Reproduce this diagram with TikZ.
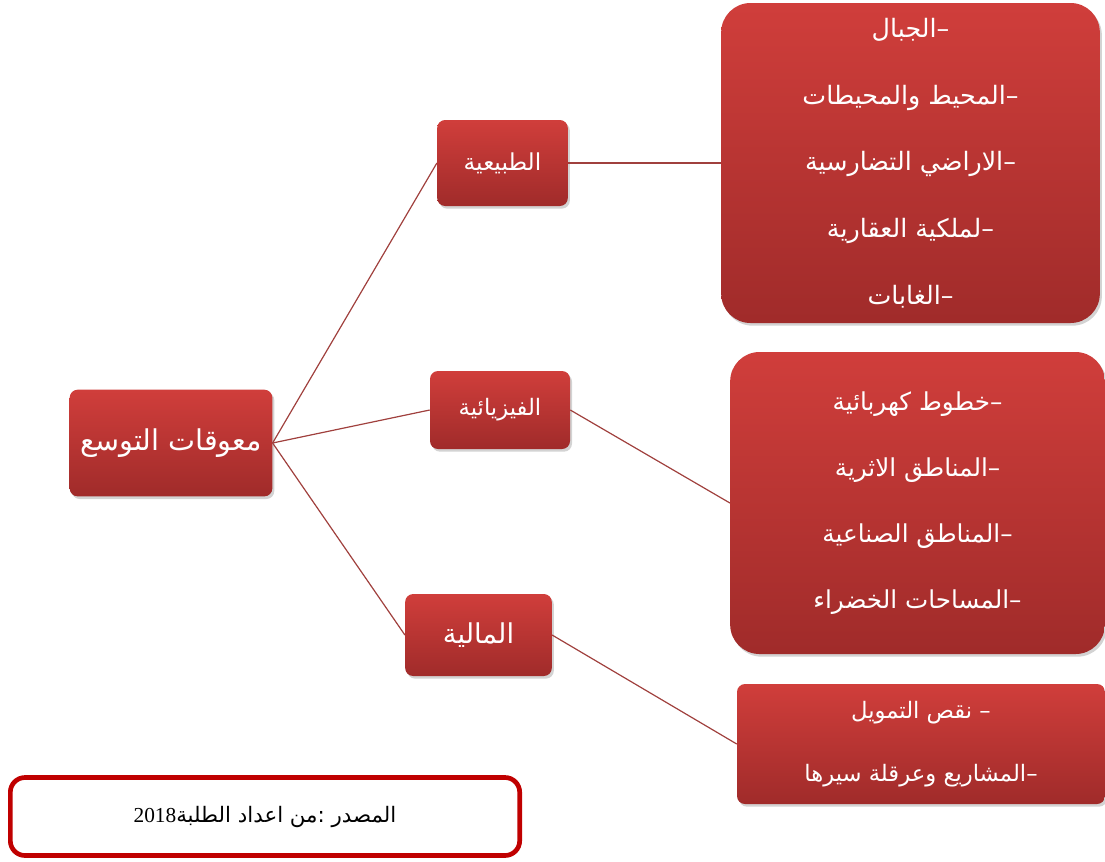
\documentclass[tikz,border=0pt]{standalone}
\usepackage{fontspec}
\setmainfont{Liberation Serif}
\newfontfamily\arabicfont[Script=Arabic]{DejaVu Sans}
\TeXXeTstate=1
\usepackage{tikz}
\usetikzlibrary{shapes,positioning,calc,shadows}
\definecolor{boxtop}{RGB}{208,62,59}
\definecolor{boxbot}{RGB}{160,43,42}
\definecolor{linkred}{RGB}{160,64,61}
\definecolor{framered}{RGB}{192,0,0}
\tikzset{
        block/.style = {draw=none, rectangle, rounded corners=6pt, top color=boxtop, bottom color=boxbot, text=white, align=center, inner sep=0pt,
                        drop shadow={opacity=0.35, shadow xshift=1.5pt, shadow yshift=-2pt},
                        font=\arabicfont\fontsize{17.5}{21}\selectfont},
        bigblock/.style = {block, rounded corners=22pt, font=\arabicfont\fontsize{19}{50}\selectfont},
        srcbox/.style = {draw=framered, line width=3.5pt, rounded corners=11pt, fill=white, align=center,
                        font=\arabicfont\fontsize{16}{19}\selectfont},
        line/.style={draw=linkred, line width=0.9pt}}

\begin{document}
\begin{tikzpicture}[x=0.75pt, y=-0.75pt]
            \useasboundingbox (0,0) rectangle (1105,861);
            \node [block, minimum width=152pt, minimum height=80pt, font=\arabicfont\fontsize{21.5}{26}\selectfont] (obst) at (171,443) {\beginR معوقات التوسع\endR};
            \node [block, minimum width=98pt, minimum height=64.5pt] (nat) at (502.5,163) {\beginR الطبيعية\endR};
            \node [block, minimum width=105pt, minimum height=58.5pt, font=\arabicfont\fontsize{17}{21}\selectfont] (phys) at (500,410) {\beginR الفيزيائية\endR};
            \node [block, minimum width=110pt, minimum height=61.5pt, font=\arabicfont\fontsize{20.5}{24}\selectfont] (fin) at (478.5,635) {\beginR المالية\endR};

            \node [bigblock, minimum width=284pt, minimum height=240pt] (natlist) at (910.5,163)
                {\beginR –الجبال\endR\\ \beginR –المحيط والمحيطات\endR\\ \beginR –الاراضي التضارسية\endR\\ \beginR –لملكية العقارية\endR\\ \beginR –الغابات\endR};
            \node [bigblock, minimum width=281pt, minimum height=226.5pt, font=\arabicfont\fontsize{18.5}{49.5}\selectfont] (physlist) at (917.5,503)
                {\beginR –خطوط كهربائية\endR\\ \beginR –المناطق الاثرية\endR\\ \beginR –المناطق الصناعية\endR\\ \beginR –المساحات الخضراء\endR};
            \node [bigblock, rounded corners=6pt, minimum width=276pt, minimum height=90pt, font=\arabicfont\fontsize{17}{47}\selectfont] (finlist) at (921,744)
                {\beginR – نقص التمويل\endR\\ \beginR –المشاريع وعرقلة سيرها\endR};

            \node [srcbox, minimum width=382pt, minimum height=58.5pt] (src) at (265,816.5) {\beginR المصدر :من اعداد الطلبة{\rmfamily\beginL 2018\endL}\endR};

            \begin{scope}[line]
            \draw (obst.east) -- (nat.west);
            \draw (obst.east) -- (phys.west);
            \draw (obst.east) -- (fin.west);
            \draw (nat.east) -- (natlist.west);
            \draw (phys.east) -- (physlist.west);
            \draw (fin.east) -- (finlist.west);
            \end{scope}
    \end{tikzpicture}
\end{document}
